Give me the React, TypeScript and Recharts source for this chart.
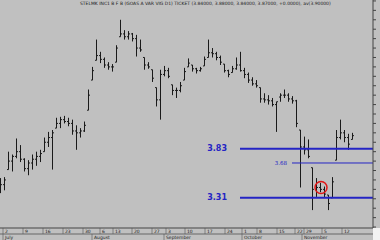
import React from 'react';
import {
  ComposedChart, Bar, XAxis, YAxis, ReferenceLine, ReferenceDot,
} from 'recharts';

// one bar per session: high / low / close prices
const highs = [
  3.52, 3.53, 3.80, 3.77, 3.94, 3.87, 3.73, 3.71, 3.77, 3.80,
  3.82, 3.95, 4.01, 4.03, 4.16, 4.17, 4.18, 4.16, 4.14, 4.08,
  4.05, 4.12, 4.46, 4.70, 4.99, 4.86, 4.80, 4.75, 4.73, 4.93,
  5.20, 5.09, 5.08, 5.06, 5.04, 4.99, 4.80, 4.75, 4.67, 4.48,
  4.67, 4.71, 4.69, 4.51, 4.48, 4.54, 4.69, 4.79, 4.72, 4.69,
  4.70, 4.81, 4.99, 4.90, 4.86, 4.82, 4.73, 4.67, 4.71, 4.80,
  4.86, 4.69, 4.64, 4.59, 4.56, 4.48, 4.42, 4.40, 4.37, 4.33,
  4.42, 4.46, 4.42, 4.39, 4.35, 4.03, 3.96, 3.93, 3.63, 3.52,
  3.47, 3.43, 3.34, 3.53, 4.03, 4.14, 4.03, 3.99, 4.00,
];
const lows = [
  3.36, 3.39, 3.61, 3.59, 3.73, 3.69, 3.59, 3.55, 3.61, 3.65,
  3.69, 3.80, 3.85, 3.61, 4.05, 4.05, 4.10, 4.07, 3.98, 3.82,
  3.95, 4.01, 4.24, 4.56, 4.77, 4.74, 4.69, 4.67, 4.65, 4.75,
  5.02, 4.99, 4.99, 4.97, 4.81, 4.86, 4.67, 4.68, 4.54, 4.28,
  4.14, 4.60, 4.58, 4.40, 4.37, 4.43, 4.56, 4.70, 4.65, 4.63,
  4.65, 4.71, 4.80, 4.80, 4.77, 4.72, 4.64, 4.59, 4.64, 4.67,
  4.65, 4.58, 4.53, 4.50, 4.48, 4.32, 4.32, 4.30, 4.28, 4.01,
  4.33, 4.37, 4.33, 4.31, 4.06, 3.42, 3.77, 3.73, 3.18, 3.32,
  3.37, 3.31, 3.18, 3.31, 3.71, 3.93, 3.90, 3.82, 3.93,
];
const closes = [
  3.45, 3.50, 3.70, 3.75, 3.80, 3.72, 3.62, 3.68, 3.72, 3.75,
  3.78, 3.90, 3.95, 4.00, 4.10, 4.14, 4.12, 4.10, 4.02, 4.00,
  4.02, 4.08, 4.40, 4.66, 4.82, 4.78, 4.72, 4.70, 4.70, 4.90,
  5.05, 5.02, 5.05, 5.00, 4.90, 4.88, 4.72, 4.70, 4.58, 4.35,
  4.62, 4.66, 4.60, 4.45, 4.45, 4.50, 4.65, 4.74, 4.68, 4.66,
  4.68, 4.78, 4.85, 4.84, 4.80, 4.75, 4.66, 4.62, 4.68, 4.72,
  4.66, 4.62, 4.56, 4.52, 4.50, 4.36, 4.35, 4.34, 4.30, 4.38,
  4.40, 4.40, 4.36, 4.34, 4.10, 3.85, 3.82, 3.75, 3.40, 3.42,
  3.40, 3.35, 3.25, 3.48, 3.95, 4.00, 3.95, 3.88, 3.97,
];
const firstOpen = 3.50;

const dayTicks = [0.75, 5.75, 10.75, 15.75, 20.75, 25, 28.25, 33, 38, 41.5, 46.25, 51.25, 56.25, 60.5, 64.25, 69.25, 73.75, 76, 80.5, 85.5];
const dayLabels = ['2', '9', '16', '23', '30', '6', '13', '20', '27', '3', '10', '17', '24', '1', '8', '15', '22', '29', '5', '12'];
const monthTicks = [0.75, 23, 41, 60.5, 75.5];
const monthLabels = ['July', 'August', 'September', 'October', 'November'];

const priceTicks = [3.0, 3.1, 3.2, 3.3, 3.4, 3.5, 3.6, 3.7, 3.8, 3.9, 4.0, 4.1, 4.2, 4.3, 4.4, 4.5, 4.6, 4.7, 4.8, 4.9, 5.0, 5.1, 5.2, 5.3, 5.4];

// support / resistance levels drawn on the chart
const levels = [3.83, 3.68, 3.31];
const levelStart = [60, 73, 60];
const levelBold = [true, false, true];

const circleAt = { i: 80.25, p: 3.42 };

const data = highs.map((h, i) => ({
  i,
  range: [lows[i], h],
  open: i === 0 ? firstOpen : closes[i - 1],
  close: closes[i],
}));

const BLUE = '#2424c4';
const INK = '#1a1a1a';
const FONT = 'DejaVu Sans, sans-serif';

// high-low line with open tick on the left and close tick on the right
const OhlcShape = (props: any) => {
  const { x, y, width, height, payload } = props;
  const top = Math.min(y, y + height);
  const h = Math.abs(height);
  const [lo, hi] = payload.range;
  const at = (v: number) => top + ((hi - Math.min(hi, Math.max(lo, v))) / (hi - lo || 1)) * h;
  const cx = Math.round(x + width / 2) + 0.5;
  return (
    <g stroke={INK} strokeWidth={1}>
      <line x1={cx} y1={top} x2={cx} y2={top + h} />
      <line x1={cx - 1.5} y1={at(payload.open)} x2={cx} y2={at(payload.open)} />
      <line x1={cx} y1={at(payload.close)} x2={cx + 1.5} y2={at(payload.close)} />
    </g>
  );
};

const DayTick = ({ x, y, payload }: any) => {
  const k = dayTicks.indexOf(payload.value);
  return (
    <g>
      <line x1={x} y1={y} x2={x} y2={y + 6} stroke="#555" strokeWidth={0.6} />
      <text x={x + 2} y={y + 5} fontSize={4.5} fill="#222" fontFamily={FONT}>{dayLabels[k]}</text>
    </g>
  );
};

const MonthTick = ({ x, y, payload }: any) => {
  const k = monthTicks.indexOf(payload.value);
  return (
    <g>
      <line x1={x} y1={y} x2={x} y2={y + 6} stroke="#555" strokeWidth={0.6} />
      <text x={x + 2} y={y + 5} fontSize={4.5} fill="#222" fontFamily={FONT}>{monthLabels[k]}</text>
    </g>
  );
};

const levelLabel = (n: number) => (props: any) => {
  const vb = props.viewBox;
  const bold = levelBold[n];
  return (
    <text
      x={vb.x - (bold ? 13 : 5)}
      y={vb.y + (bold ? 2.5 : 2)}
      textAnchor="end"
      fontSize={bold ? 8 : 5.5}
      fontWeight={bold ? 'bold' : 'normal'}
      fill={BLUE}
      fontFamily={FONT}
    >
      {levels[n].toFixed(2)}
    </text>
  );
};

export default function App() {
  return (
    <div style={{ position: 'relative', width: 380, height: 240, background: '#c0c0c0', overflow: 'hidden' }}>
      <style>{'body{margin:0}'}</style>
      <div style={{ position: 'absolute', left: 80, top: 1, fontSize: 4.5, fontFamily: FONT, color: '#222', whiteSpace: 'nowrap', zIndex: 2 }}>
        STELMK INC1 B F B (GOAS A VAR VIG D1) TICKET (3.84000, 3.88000, 3.84000, 3.87000, +0.0000), av(3.90000)
      </div>
      <ComposedChart width={380} height={240} data={data} margin={{ top: 0, right: 0, bottom: 0, left: 0 }}>
        <XAxis
          dataKey="i" type="number" domain={[0, 93.25]} ticks={dayTicks} interval={0}
          height={6} tickLine={false} tickSize={0} tickMargin={0}
          axisLine={{ stroke: '#444' }} tick={<DayTick />}
        />
        <XAxis
          xAxisId="month" dataKey="i" type="number" domain={[0, 93.25]} ticks={monthTicks} interval={0}
          height={6} tickLine={false} tickSize={0} tickMargin={0}
          axisLine={{ stroke: '#666' }} tick={<MonthTick />}
        />
        <YAxis
          orientation="right" type="number" domain={[2.99, 5.41]} ticks={priceTicks} interval={0}
          width={7} tickSize={3} tickFormatter={() => ''} axisLine={{ stroke: '#444' }}
          tickLine={{ stroke: '#444' }}
        />
        <Bar dataKey="range" fill={INK} barSize={1} shape={<OhlcShape />} isAnimationActive={false} />
        {levels.map((lv, n) => (
          <ReferenceLine
            key={lv}
            segment={[{ x: levelStart[n], y: lv }, { x: 93.25, y: lv }]}
            stroke={BLUE}
            strokeWidth={levelBold[n] ? 2 : 1}
            label={levelLabel(n)}
            ifOverflow="extendDomain"
          />
        ))}
        <ReferenceDot x={circleAt.i} y={circleAt.p} r={6} fill="none" stroke="#e01818" strokeWidth={1.5} />
      </ComposedChart>
      <div style={{ position: 'absolute', right: 0, bottom: 0, width: 7, height: 12, background: '#f2f2f2' }} />
    </div>
  );
}
